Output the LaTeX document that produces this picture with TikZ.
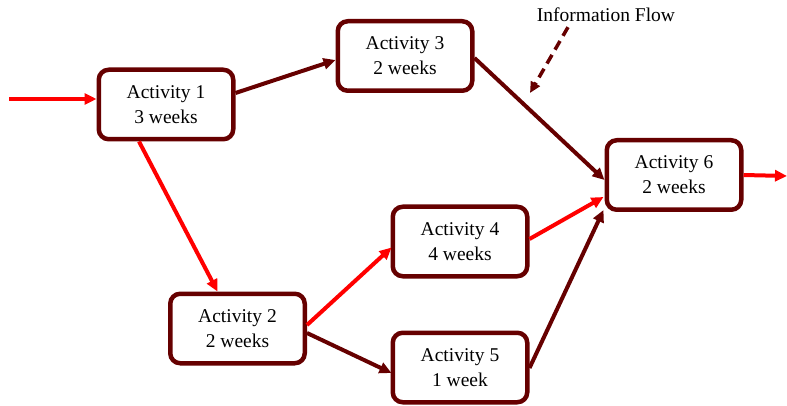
\documentclass[tikz,border=0pt]{standalone}
\usepackage{fontspec}
\setmainfont{Liberation Serif}
\usetikzlibrary{arrows.meta,calc}
\definecolor{darkmaroon}{RGB}{102,0,0}
\definecolor{pathred}{RGB}{255,0,0}
\tikzset{
  activity/.style={draw=darkmaroon, line width=4.5pt, rounded corners=10pt,
    fill=white, minimum width=134.5pt, minimum height=69.5pt,
    align=center, inner sep=0pt,
    font=\fontsize{19.5pt}{25pt}\selectfont},
  link/.style={draw=darkmaroon, line width=4pt,
    -{Triangle[length=12pt,width=11pt]}},
  critical/.style={draw=pathred, line width=4pt,
    -{Triangle[length=12pt,width=11pt]}},
  infolink/.style={draw=darkmaroon, line width=3.5pt, dash pattern=on 10pt off 6pt,
    -{Triangle[length=11pt,width=10pt]}},
  caption/.style={font=\fontsize{19.5pt}{25pt}\selectfont, inner sep=0pt}
}
\begin{document}
\begin{tikzpicture}[x=1pt,y=-1pt]
  \useasboundingbox (0,0) rectangle (787,406);

  % activity boxes
  \node[activity] (a1) at (166,104.5) {Activity 1\\3 weeks};
  \node[activity] (a3) at (405,56) {Activity 3\\2 weeks};
  \node[activity] (a2) at (237.5,328.5) {Activity 2\\2 weeks};
  \node[activity] (a4) at (460,241.5) {Activity 4\\4 weeks};
  \node[activity] (a5) at (460,367.5) {Activity 5\\1 week};
  \node[activity] (a6) at (674,175) {Activity 6\\2 weeks};

  % label for the information flow
  \node[caption] (info) at (606,15) {Information Flow};

  % free ends of the outer arrows
  \coordinate (start) at (9,99);
  \coordinate (finish) at (787,176);
  \coordinate (infoend) at (530,93);

  % project input and output
  \draw[critical] (start) -- ($(a1.west)+(0,-5.5)$);
  \draw[critical] (a6.east) -- (finish);

  % precedence links
  \draw[link] ($(a1.east)+(0,-11.5)$) -- ($(a3.west)+(0,4)$);
  \draw[critical] ($(a1.south)+(-27,0)$) -- ($(a2.north)+(-20,0)$);
  \draw[critical] ($(a2.east)+(0,-3.5)$) -- ($(a4.west)+(1,6)$);
  \draw[link] ($(a2.east)+(0,4.5)$) -- ($(a5.west)+(1,5.5)$);
  \draw[link] ($(a3.east)+(0,2)$) -- ($(a6.west)+(0,5)$);
  \draw[critical] ($(a4.east)+(0,-2.5)$) -- ($(a6.west)+(-1,22)$);
  \draw[link] ($(a5.east)+(0,0.5)$) -- ($(a6.west)+(-1,35)$);

  % dashed pointer from the label
  \draw[infolink] ($(info.south)+(-38,5)$) -- (infoend);
\end{tikzpicture}
\end{document}
